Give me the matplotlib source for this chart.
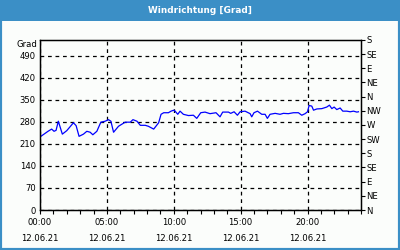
import matplotlib
matplotlib.use("Agg")
import matplotlib.pyplot as plt
from matplotlib.patches import Rectangle

title = "Windrichtung [Grad]"
y_unit = "Grad"
hours = [0.0, 0.6, 0.87, 1.05, 1.2, 1.37, 1.67, 2.0, 2.5, 2.7, 2.92, 3.25, 3.5, 3.75, 3.95,
         4.25, 4.55, 4.87, 5.12, 5.3, 5.5, 5.87, 6.37, 6.75, 6.95, 7.25, 7.5, 7.87, 8.1,
         8.5, 8.87, 9.05, 9.25, 9.6, 9.8, 10.0, 10.1, 10.3, 10.47, 10.72, 11.1, 11.47,
         11.72, 12.02, 12.34, 12.71, 13.16, 13.46, 13.66, 14.09, 14.26, 14.51, 14.76,
         14.96, 15.33, 15.71, 15.83, 16.0, 16.26, 16.58, 16.83, 17.0, 17.2, 17.58, 17.95,
         18.2, 18.57, 18.95, 19.32, 19.57, 19.82, 20.0, 20.12, 20.32, 20.45, 20.7, 21.07,
         21.44, 21.64, 21.82, 21.99, 22.19, 22.44, 22.64, 22.94, 23.19, 23.44, 23.69, 23.81]
direction = [232, 250, 257, 250, 253, 282, 241, 252, 277, 268, 234, 241, 250, 247, 239,
             250, 279, 282, 287, 282, 247, 266, 279, 279, 287, 282, 269, 269, 266,
             257, 277, 304, 309, 309, 314, 317, 314, 304, 314, 304, 300, 301,
             291, 309, 311, 306, 309, 296, 311, 311, 307, 312, 301,
             312, 314, 306, 296, 309, 314, 304, 304, 291, 304, 307, 304,
             307, 306, 309, 309, 301, 306, 312, 332, 330, 317, 321, 322,
             327, 333, 322, 327, 319, 324, 314, 314, 312, 314, 311, 312]
x_ticks = [0, 5, 10, 15, 20]
x_labels = ["00:00\n12.06.21", "05:00\n12.06.21", "10:00\n12.06.21",
            "15:00\n12.06.21", "20:00\n12.06.21"]
y_ticks = [0, 70, 140, 210, 280, 350, 420, 490]
compass_ticks = list(range(0, 541, 45))
compass_labels = ["N", "NE", "E", "SE", "S", "SW", "W", "NW", "N", "NE", "E", "SE", "S"]

plt.rcParams['font.family'] = ['DejaVu Sans']
FS = 6.1
bg = '#fbfdfb'
blue = '#3b8fc6'

fig = plt.figure(figsize=(4, 2.5), dpi=100, facecolor=bg)
# border and title bar
fig.patches.append(Rectangle((0, 0), 1, 1, transform=fig.transFigure, facecolor='none',
                             edgecolor=blue, linewidth=3, zorder=0))
fig.patches.append(Rectangle((0, 1 - 20.5 / 250), 1, 20.5 / 250, transform=fig.transFigure,
                             facecolor=blue, edgecolor='none', zorder=1))
fig.text(0.5, 1 - 10.5 / 250, title, color='white', fontweight='bold', fontsize=6.4,
         ha='center', va='center')

ax = fig.add_axes([40 / 400, 1 - 210 / 250, 321 / 400, 170 / 250])
ax.set_facecolor(bg)
ax.plot(hours, direction, color='#0000ff', linewidth=0.9)
ax.set_xlim(0, 24)
ax.set_ylim(0, 540)
ax.set_xticks(x_ticks)
ax.set_xticklabels(x_labels)
ax.set_xticks(range(0, 25), minor=True)
ax.set_yticks(y_ticks)
ax.set_yticklabels([str(v) for v in y_ticks])
ax.tick_params(axis='x', which='both', direction='out', length=3, width=0.8, pad=3,
               labelsize=FS, color='black')
ax.tick_params(axis='y', length=0, pad=3, labelsize=FS)
for lbl in ax.get_xticklabels():
    lbl.set_linespacing(1.9)
ax.grid(True, which='major', color='black', linestyle=(0, (3, 3)), linewidth=0.9)
for s in ax.spines.values():
    s.set_color('black')
    s.set_linewidth(1.0)
ax.text(-3 / 321, 1 - 4.5 / 170, y_unit, transform=ax.transAxes, ha='right', va='center',
        fontsize=FS)

ax2 = ax.twinx()
ax2.set_ylim(0, 540)
ax2.set_yticks(compass_ticks)
ax2.set_yticklabels(compass_labels)
ax2.tick_params(axis='y', direction='out', length=3, width=0.8, pad=1, labelsize=FS)

fig.savefig("out.png", dpi=100, facecolor=bg)
